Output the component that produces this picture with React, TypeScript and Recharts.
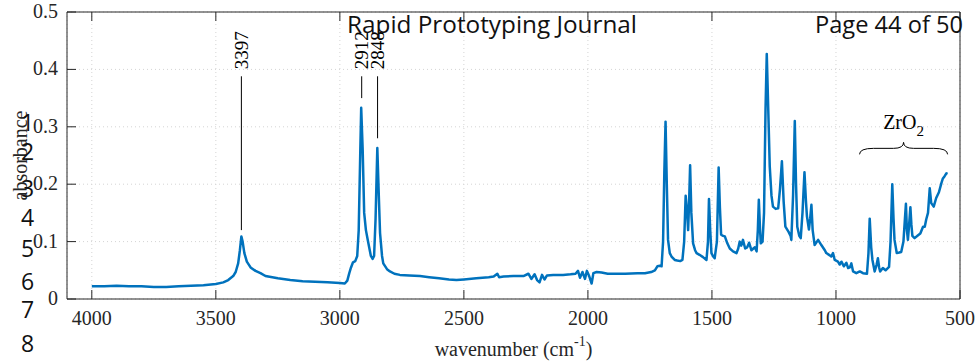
import { CartesianGrid, Line, LineChart, ReferenceLine, XAxis, YAxis } from "recharts";

// FTIR spectrum in four stretches
const wnHigh = [
  4000, 3950, 3900, 3850, 3800, 3750, 3700, 3650, 3600, 3550,
  3500, 3470, 3450, 3430, 3420, 3410, 3403, 3397, 3392, 3385,
  3375, 3360, 3340, 3320, 3300, 3250, 3200, 3150, 3100, 3050,
  3000, 2980, 2970, 2962, 2955, 2947, 2938, 2930, 2924, 2918,
  2914, 2908, 2902, 2895, 2885, 2875, 2868, 2862, 2856, 2849,
  2843, 2838, 2830, 2825, 2810, 2798, 2780, 2758, 2720, 2677,
];
const absHigh = [
  0.022, 0.022, 0.023, 0.022, 0.022, 0.021, 0.021, 0.022, 0.023, 0.024,
  0.026, 0.029, 0.033, 0.040, 0.047, 0.062, 0.085, 0.109, 0.100, 0.080,
  0.065, 0.055, 0.049, 0.045, 0.040, 0.036, 0.033, 0.031, 0.030, 0.029,
  0.028, 0.027, 0.032, 0.045, 0.055, 0.064, 0.066, 0.075, 0.120, 0.250,
  0.333, 0.260, 0.150, 0.120, 0.097, 0.075, 0.070, 0.075, 0.140, 0.263,
  0.180, 0.115, 0.075, 0.062, 0.052, 0.048, 0.044, 0.042, 0.041, 0.040,
];

const wnMid = [
  2640, 2600, 2560, 2530, 2500, 2450, 2400, 2380, 2365, 2358,
  2340, 2300, 2260, 2240, 2228, 2215, 2205, 2195, 2185, 2175,
  2165, 2140, 2100, 2070, 2050, 2040, 2032, 2022, 2012, 2004,
  1995, 1985, 1978, 1965, 1945, 1920, 1900, 1850, 1800, 1770,
  1745,
];
const absMid = [
  0.038, 0.036, 0.034, 0.033, 0.034, 0.036, 0.038, 0.039, 0.044, 0.038,
  0.039, 0.040, 0.040, 0.044, 0.035, 0.043, 0.033, 0.029, 0.042, 0.034,
  0.041, 0.042, 0.042, 0.043, 0.044, 0.049, 0.037, 0.047, 0.035, 0.049,
  0.040, 0.027, 0.045, 0.047, 0.046, 0.044, 0.044, 0.044, 0.045, 0.045,
  0.047,
];

const wnFinger = [
  1730, 1720, 1710, 1703, 1697, 1692, 1687, 1682, 1677, 1670,
  1663, 1650, 1640, 1628, 1619, 1612, 1606, 1600, 1596, 1592,
  1588, 1583, 1576, 1568, 1562, 1550, 1536, 1522, 1516, 1512,
  1507, 1502, 1495, 1489, 1480, 1473, 1468, 1463, 1455, 1448,
  1438, 1428, 1415, 1401, 1394, 1388, 1382, 1375, 1366, 1358,
  1350, 1341, 1333, 1327, 1320, 1315, 1311, 1306, 1303, 1296,
  1290, 1284, 1279, 1273, 1267, 1260, 1254, 1243, 1233, 1226,
  1218, 1211, 1204, 1191, 1183, 1180, 1173, 1166, 1161, 1156,
  1148, 1142, 1135, 1127, 1121, 1117, 1109, 1104, 1099, 1094,
  1086, 1072, 1059, 1045, 1039, 1025, 1019, 1012, 1005,
];
const absFinger = [
  0.050, 0.057, 0.058, 0.057, 0.100, 0.220, 0.309, 0.200, 0.103, 0.080,
  0.074, 0.068, 0.067, 0.066, 0.068, 0.100, 0.180, 0.150, 0.120, 0.170,
  0.233, 0.150, 0.097, 0.085, 0.080, 0.077, 0.073, 0.068, 0.100, 0.174,
  0.120, 0.080, 0.074, 0.071, 0.100, 0.229, 0.160, 0.112, 0.110, 0.109,
  0.097, 0.088, 0.083, 0.080, 0.088, 0.100, 0.093, 0.103, 0.088, 0.090,
  0.098, 0.085, 0.088, 0.090, 0.083, 0.120, 0.173, 0.120, 0.097, 0.100,
  0.150, 0.330, 0.427, 0.330, 0.231, 0.180, 0.161, 0.157, 0.158, 0.190,
  0.240, 0.170, 0.126, 0.117, 0.110, 0.103, 0.180, 0.310, 0.200, 0.126,
  0.110, 0.106, 0.150, 0.221, 0.170, 0.144, 0.121, 0.140, 0.164, 0.120,
  0.094, 0.103, 0.094, 0.085, 0.080, 0.076, 0.074, 0.080, 0.068,
];

const wnLow = [
  992, 985, 978, 968, 958, 951, 944, 938, 931, 918,
  904, 891, 875, 869, 864, 858, 853, 844, 836, 831,
  826, 822, 811, 800, 786, 780, 773, 768, 764, 755,
  745, 737, 728, 722, 718, 714, 710, 705, 700, 696,
  692, 683, 669, 660, 649, 642, 636, 629, 622, 616,
  606, 596, 585, 575, 569, 562, 555, 550,
];
const absLow = [
  0.065, 0.060, 0.065, 0.057, 0.063, 0.054, 0.055, 0.062, 0.048, 0.045,
  0.048, 0.045, 0.044, 0.080, 0.140, 0.090, 0.068, 0.048, 0.060, 0.071,
  0.055, 0.048, 0.054, 0.050, 0.056, 0.100, 0.200, 0.140, 0.103, 0.080,
  0.081, 0.082, 0.100, 0.140, 0.166, 0.120, 0.103, 0.130, 0.160, 0.130,
  0.110, 0.106, 0.111, 0.114, 0.126, 0.126, 0.139, 0.150, 0.193, 0.167,
  0.161, 0.176, 0.186, 0.202, 0.210, 0.214, 0.219, 0.218,
];

const xTicks = [4000, 3500, 3000, 2500, 2000, 1500, 1000, 500];
const yTicks = [0, 0.1, 0.2, 0.3, 0.4, 0.5];

// labelled peaks and where their leader lines stop
const peakWavenumbers = [3397, 2912, 2848];
const leaderBottoms = [0.12, 0.35, 0.28];
const leaderTop = 0.388;

// ZrO2 band bracket
const zrStart = 905;
const zrEnd = 550;
const zrLevel = 0.252;

// pdf page furniture that sits over the figure
const journalTitle = "Rapid Prototyping Journal";
const pageLabel = "Page 44 of 50";
const lineNumbers = ["1", "2", "3", "4", "5", "6", "7", "8"];
const lineBaselines = [131, 160, 197, 226, 257, 290, 318, 352];

const wavenumber = [...wnHigh, ...wnMid, ...wnFinger, ...wnLow];
const absorbance = [...absHigh, ...absMid, ...absFinger, ...absLow];
const data = wavenumber.map((wn, i) => ({ wn, abs: absorbance[i] }));

const SERIF = "'Liberation Serif', 'Times New Roman', serif";
const SANS = "'Open Sans', 'Noto Sans', sans-serif";
const INK = "#262626";
const TICK = 9;

const BottomTick = ({ x, y, payload }: any) => (
  <g>
    <line x1={x} y1={y} x2={x} y2={y - TICK} stroke={INK} />
    <text x={x} y={y + 26} textAnchor="middle" fontFamily={SERIF} fontSize={20} fill={INK}>
      {payload.value}
    </text>
  </g>
);

const TopTick = ({ x, y }: any) => <line x1={x} y1={y} x2={x} y2={y + TICK} stroke={INK} />;

const LeftTick = ({ x, y, payload }: any) => (
  <g>
    <line x1={x} y1={y} x2={x + TICK} y2={y} stroke={INK} />
    <text x={x - 9} y={y + 6} textAnchor="end" fontFamily={SERIF} fontSize={20} fill={INK}>
      {payload.value}
    </text>
  </g>
);

const RightTick = ({ x, y }: any) => <line x1={x} y1={y} x2={x - TICK} y2={y} stroke={INK} />;

const XTitle = ({ viewBox }: any) => (
  <text
    x={viewBox.x + viewBox.width / 2}
    y={viewBox.y + 57}
    textAnchor="middle"
    fontFamily={SERIF}
    fontSize={20}
    fill={INK}
  >
    <tspan>wavenumber (cm</tspan>
    <tspan dy={-10} fontSize={14}>-1</tspan>
    <tspan dy={10}>)</tspan>
  </text>
);

const YTitle = ({ viewBox }: any) => (
  <text
    transform={`translate(26.5, ${viewBox.y + viewBox.height / 2}) rotate(-90)`}
    textAnchor="middle"
    fontFamily={SERIF}
    fontSize={20}
    fill={INK}
  >
    absorbance
  </text>
);

const PeakText = ({ viewBox, text }: any) => (
  <text
    transform={`translate(${viewBox.x + 6.5}, ${viewBox.y - 7}) rotate(-90)`}
    textAnchor="start"
    fontFamily={SERIF}
    fontSize={19}
    fill="#000"
  >
    {text}
  </text>
);

const Brace = ({ x1, x2, y1 }: any) => {
  const l = Math.min(x1, x2);
  const r = Math.max(x1, x2);
  const m = (l + r) / 2;
  const y = y1;
  const d = [
    `M${l},${y}`,
    `Q${l},${y - 6} ${l + 14},${y - 6}`,
    `L${m - 10},${y - 6}`,
    `Q${m},${y - 6} ${m},${y - 12}`,
    `Q${m},${y - 6} ${m + 10},${y - 6}`,
    `L${r - 14},${y - 6}`,
    `Q${r},${y - 6} ${r},${y}`,
  ].join(" ");
  return <path d={d} fill="none" stroke="#000" strokeWidth={1} />;
};

const ZrLabel = ({ viewBox }: any) => (
  <text
    x={viewBox.x + viewBox.width / 2}
    y={viewBox.y - 25}
    textAnchor="middle"
    fontFamily={SERIF}
    fontSize={20}
    fill="#000"
  >
    ZrO<tspan dy={7} fontSize={15}>2</tspan>
  </text>
);

export default function App() {
  return (
    <div style={{ position: "absolute", left: 0, top: 0, width: 979, height: 362, background: "#fff" }}>
      <LineChart width={979} height={362} data={data} margin={{ top: 0, right: 0, bottom: 0, left: 0 }}>
        <CartesianGrid xAxisId="b" yAxisId="l" stroke="#d4d4d4" strokeDasharray="1 3" />
        <XAxis
          xAxisId="b"
          dataKey="wn"
          type="number"
          domain={[500, 4100]}
          reversed
          ticks={xTicks}
          interval={0}
          height={63}
          tickSize={0}
          tickMargin={0}
          tickLine={false}
          axisLine={{ stroke: INK }}
          tick={BottomTick}
          label={XTitle}
        />
        <XAxis
          xAxisId="t"
          orientation="top"
          dataKey="wn"
          type="number"
          domain={[500, 4100]}
          reversed
          ticks={xTicks}
          interval={0}
          height={12}
          tickSize={0}
          tickMargin={0}
          tickLine={false}
          axisLine={{ stroke: INK }}
          tick={TopTick}
        />
        <YAxis
          yAxisId="l"
          type="number"
          domain={[0, 0.5]}
          ticks={yTicks}
          interval={0}
          width={67}
          tickSize={0}
          tickMargin={0}
          tickLine={false}
          axisLine={{ stroke: INK }}
          tick={LeftTick}
          label={YTitle}
        />
        <YAxis
          yAxisId="r"
          orientation="right"
          type="number"
          domain={[0, 0.5]}
          ticks={yTicks}
          interval={0}
          width={19}
          tickSize={0}
          tickMargin={0}
          tickLine={false}
          axisLine={{ stroke: INK }}
          tick={RightTick}
        />
        <Line
          xAxisId="b"
          yAxisId="l"
          type="linear"
          dataKey="abs"
          stroke="#0072BD"
          strokeWidth={2.5}
          strokeLinejoin="round"
          dot={false}
          isAnimationActive={false}
        />
        {peakWavenumbers.map((wn, i) => (
          <ReferenceLine
            key={wn}
            xAxisId="b"
            yAxisId="l"
            segment={[
              { x: wn, y: leaderBottoms[i] },
              { x: wn, y: leaderTop },
            ]}
            stroke="#000"
            strokeWidth={1}
            label={(p: any) => <PeakText viewBox={p.viewBox} text={String(wn)} />}
          />
        ))}
        <ReferenceLine
          xAxisId="b"
          yAxisId="l"
          segment={[
            { x: zrStart, y: zrLevel },
            { x: zrEnd, y: zrLevel },
          ]}
          shape={Brace}
          label={ZrLabel}
        />
      </LineChart>
      <svg
        width={979}
        height={362}
        style={{ position: "absolute", left: 0, top: 0, pointerEvents: "none" }}
      >
        <text x={347} y={33} fontFamily={SANS} fontSize={24} fill="#111" textLength={290} lengthAdjust="spacingAndGlyphs">
          {journalTitle}
        </text>
        <text x={815} y={33} fontFamily={SANS} fontSize={24} fill="#111" textLength={148} lengthAdjust="spacingAndGlyphs">
          {pageLabel}
        </text>
        {lineNumbers.map((n, i) => (
          <text key={n} x={27.5} y={lineBaselines[i]} textAnchor="middle" fontFamily={SANS} fontSize={23} fill="#111">
            {n}
          </text>
        ))}
      </svg>
    </div>
  );
}
